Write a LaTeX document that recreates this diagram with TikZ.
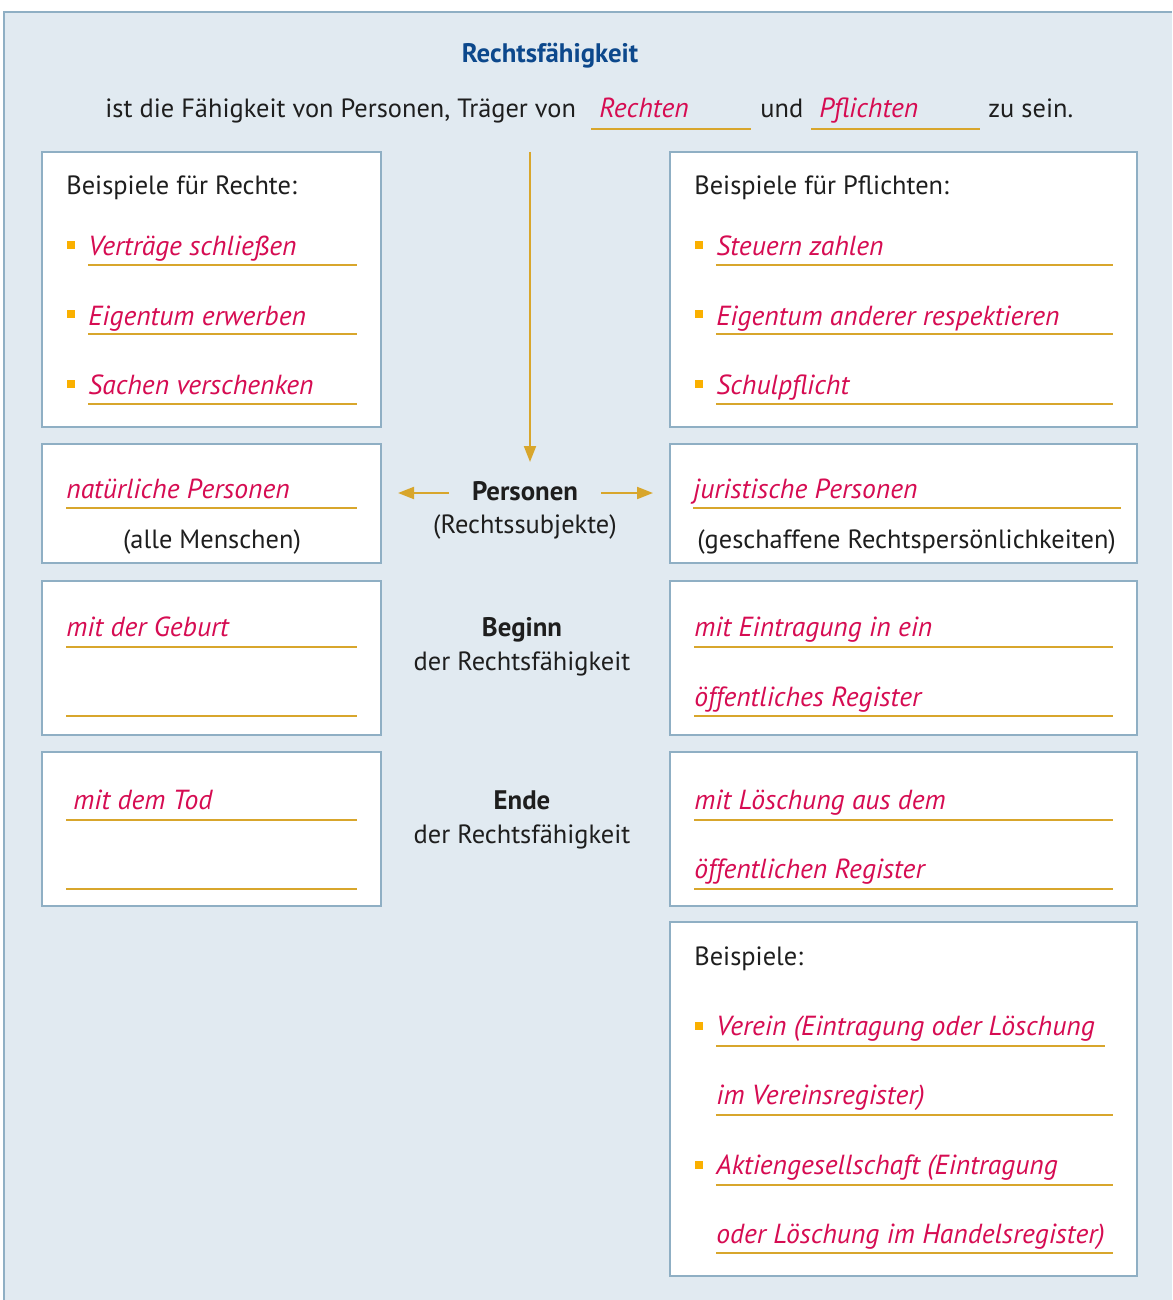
\documentclass[tikz,border=0pt]{standalone}
\usepackage{fontspec}
\setmainfont{PT Sans}
\usepackage{tikz}
\usetikzlibrary{arrows.meta, shapes}
\definecolor{panelblau}{RGB}{225, 234, 241}
\definecolor{rahmenblau}{RGB}{143, 175, 196}
\definecolor{titelblau}{RGB}{12, 72, 140}
\definecolor{schrift}{RGB}{30, 30, 30}
\definecolor{rotschrift}{RGB}{214, 12, 82}
\definecolor{goldlinie}{RGB}{216, 166, 44}
\definecolor{punktorange}{RGB}{250, 176, 0}
\tikzset{
  kasten/.style={draw=rahmenblau, fill=white, line width=0.7pt},
  linie/.style={draw=goldlinie, line width=1pt},
  grund/.style={text=schrift, font=\fontsize{13.2}{15}\selectfont, inner sep=0pt},
  fett/.style={text=schrift, font=\fontsize{13.4}{15}\selectfont\bfseries, inner sep=0pt},
  hand/.style={text=rotschrift, font=\fontsize{13.8}{15}\selectfont\itshape, inner sep=0pt},
  pfeil/.style={draw=goldlinie, line width=1pt, -{Triangle[length=8pt, width=6pt]}}
}
\newcommand{\punkt}[1]{\fill[punktorange] #1 rectangle ++(8,-8);}
\begin{document}
\begin{tikzpicture}[x=0.5pt, y=-0.5pt]
        % 背景
        \useasboundingbox (0,0) rectangle (1172,1300);
        \fill[panelblau] (4,12) rectangle (1172,1300);
        \draw[rahmenblau, line width=0.8pt] (4,1300) -- (4,12) -- (1172,12);

        % 标题
        \node[fett, text=titelblau, anchor=base] (titel) at (550,63) {Rechtsfähigkeit};
        \node[grund, anchor=base west] (satz) at (105,118) {ist die Fähigkeit von Personen, Träger von};
        \node[hand, anchor=base west] (rechten) at (599,118) {Rechten};
        \node[grund, anchor=base west] (und) at (760,118) {und};
        \node[hand, anchor=base west] (pflichten) at (819,118) {Pflichten};
        \node[grund, anchor=base west] (sein) at (988,118) {zu sein.};
        \draw[linie] (591,129) -- (751,129);
        \draw[linie] (811,129) -- (980,129);

        % 框
        \draw[kasten] (42,152) rectangle (381,427);
        \draw[kasten] (670,152) rectangle (1137,427);
        \draw[kasten] (42,444) rectangle (381,563);
        \draw[kasten] (670,444) rectangle (1137,563);
        \draw[kasten] (42,581) rectangle (381,735);
        \draw[kasten] (670,581) rectangle (1137,735);
        \draw[kasten] (42,752) rectangle (381,906);
        \draw[kasten] (670,752) rectangle (1137,906);
        \draw[kasten] (670,922) rectangle (1137,1276);

        % 权利
        \node[grund, anchor=base west] (rechtekopf) at (66,195) {Beispiele für Rechte:};
        \punkt{(67,249)} \node[hand, anchor=base west] (r1) at (88,256) {Verträge schließen};
        \punkt{(67,318)} \node[hand, anchor=base west] (r2) at (88,325) {Eigentum erwerben};
        \punkt{(67,388)} \node[hand, anchor=base west] (r3) at (88,394) {Sachen verschenken};
        \foreach \y in {265,334,404} \draw[linie] (88,\y) -- (357,\y);

        % 义务
        \node[grund, anchor=base west] (pflichtenkopf) at (694,195) {Beispiele für Pflichten:};
        \punkt{(695,249)} \node[hand, anchor=base west] (p1) at (716,256) {Steuern zahlen};
        \punkt{(695,318)} \node[hand, anchor=base west] (p2) at (716,325) {Eigentum anderer respektieren};
        \punkt{(695,388)} \node[hand, anchor=base west] (p3) at (716,394) {Schulpflicht};
        \foreach \y in {265,334,404} \draw[linie] (716,\y) -- (1113,\y);

        % 中间
        \node[fett, anchor=base] (personen) at (525,500) {Personen};
        \node[grund, anchor=base] (subjekte) at (525,533) {(Rechtssubjekte)};
        \coordinate (oben) at (530,152);
        \coordinate (links) at (398,493);
        \coordinate (rechts) at (653,493);
        \draw[pfeil] (oben) -- (530,462);
        \draw[pfeil] ([xshift=-11.5pt]personen.west |- links) -- (links);
        \draw[pfeil] ([xshift=11.5pt]personen.east |- rechts) -- (rechts);

        \node[hand, anchor=base west] (natuerlich) at (66,498) {natürliche Personen};
        \node[grund, anchor=base] (menschen) at (212,548) {(alle Menschen)};
        \draw[linie] (66,508) -- (357,508);
        \node[hand, anchor=base west] (juristisch) at (693,498) {juristische Personen};
        \node[grund, anchor=base west] (geschaffen) at (697,548) {(geschaffene Rechtspersönlichkeiten)};
        \draw[linie] (693,508) -- (1121,508);

        % 开始
        \node[fett, anchor=base] (beginn) at (522,636) {Beginn};
        \node[grund, anchor=base] (beginnzusatz) at (522,670) {der Rechtsfähigkeit};
        \node[hand, anchor=base west] (geburt) at (66,636) {mit der Geburt};
        \draw[linie] (66,647) -- (357,647);
        \draw[linie] (66,716) -- (357,716);
        \node[hand, anchor=base west] (eintragung) at (694,636) {mit Eintragung in ein};
        \node[hand, anchor=base west] (register1) at (694,706) {öffentliches Register};
        \draw[linie] (694,647) -- (1113,647);
        \draw[linie] (694,716) -- (1113,716);

        % 结束
        \node[fett, anchor=base] (ende) at (522,809) {Ende};
        \node[grund, anchor=base] (endezusatz) at (522,843) {der Rechtsfähigkeit};
        \node[hand, anchor=base west] (tod) at (73,809) {mit dem Tod};
        \draw[linie] (66,820) -- (357,820);
        \draw[linie] (66,889) -- (357,889);
        \node[hand, anchor=base west] (loeschung) at (694,809) {mit Löschung aus dem};
        \node[hand, anchor=base west] (register2) at (694,878) {öffentlichen Register};
        \draw[linie] (694,820) -- (1113,820);
        \draw[linie] (694,889) -- (1113,889);

        % 例子
        \node[grund, anchor=base west] (beispiele) at (694,965) {Beispiele:};
        \punkt{(695,1030)} \node[hand, anchor=base west] (b1) at (716,1035) {Verein (Eintragung oder Löschung};
        \node[hand, anchor=base west] (b2) at (716,1104) {im Vereinsregister)};
        \punkt{(695,1169)} \node[hand, anchor=base west] (b3) at (716,1174) {Aktiengesellschaft (Eintragung};
        \node[hand, anchor=base west] (b4) at (716,1243) {oder Löschung im Handelsregister)};
        \draw[linie] (716,1046) -- (1105,1046);
        \foreach \y in {1115,1185,1253} \draw[linie] (716,\y) -- (1113,\y);
    \end{tikzpicture}
\end{document}
